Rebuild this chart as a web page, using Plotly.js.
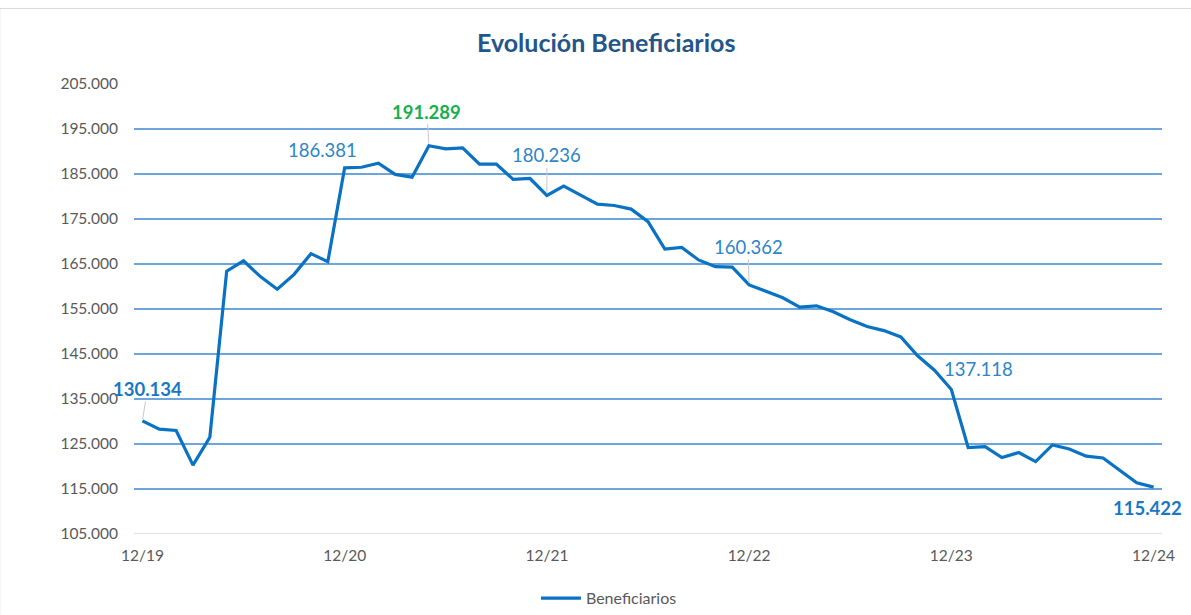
<!DOCTYPE html>
<html>
<head>
<meta charset="utf-8">
<script src="https://cdn.plot.ly/plotly-3.0.1.min.js"></script>
<style>html,body{margin:0;padding:0;background:#fff;}#chart{width:1191px;height:615px;}</style>
</head>
<body>
<div id="chart"></div>
<script>
const months = [
  "12/19","01/20","02/20","03/20","04/20","05/20","06/20","07/20","08/20","09/20","10/20","11/20",
  "12/20","01/21","02/21","03/21","04/21","05/21","06/21","07/21","08/21","09/21","10/21","11/21",
  "12/21","01/22","02/22","03/22","04/22","05/22","06/22","07/22","08/22","09/22","10/22","11/22",
  "12/22","01/23","02/23","03/23","04/23","05/23","06/23","07/23","08/23","09/23","10/23","11/23",
  "12/23","01/24","02/24","03/24","04/24","05/24","06/24","07/24","08/24","09/24","10/24","11/24",
  "12/24"
];
const beneficiarios = [
  130134,128300,128000,120300,126500,163400,165700,162200,159400,162700,167300,165500,
  186381,186500,187400,184900,184300,191289,190600,190800,187200,187200,183800,184000,
  180236,182300,180300,178300,178000,177200,174400,168300,168700,165900,164400,164300,
  160362,158900,157500,155400,155700,154400,152600,151100,150200,148800,144600,141400,
  137118,124200,124400,122000,123100,121100,124800,123900,122300,121900,119200,116400,
  115422
];
const tickMonths = ["12/19","12/20","12/21","12/22","12/23","12/24"];
const yTicks = [105000,115000,125000,135000,145000,155000,165000,175000,185000,195000,205000];
const yTickText = ["105.000","115.000","125.000","135.000","145.000","155.000","165.000","175.000","185.000","195.000","205.000"];

// labelled points: month, text, style
const labelled = [
  {m:"12/19", text:"130.134", bold:true,  color:"#1878C4", ax:5,  ay:-32, leader:true},
  {m:"12/20", text:"186.381", bold:false, color:"#2B85C9", ax:-22, ay:-18, leader:false},
  {m:"05/21", text:"191.289", bold:true,  color:"#16B04E", ax:-2, ay:-34, leader:true},
  {m:"12/21", text:"180.236", bold:false, color:"#2B85C9", ax:0,  ay:-40, leader:true},
  {m:"12/22", text:"160.362", bold:false, color:"#2B85C9", ax:-1, ay:-38, leader:true},
  {m:"12/23", text:"137.118", bold:false, color:"#2B85C9", ax:27, ay:-20, leader:false},
  {m:"12/24", text:"115.422", bold:true,  color:"#1878C4", ax:-6, ay:21, leader:false}
];

const fontFam = "Lato, 'Open Sans', sans-serif";
const annotations = labelled.map(l => {
  const idx = months.indexOf(l.m);
  const txt = l.bold ? "<b>" + l.text + "</b>" : l.text;
  return {
    x: l.m, y: beneficiarios[idx], xref:"x", yref:"y",
    text: txt, showarrow: true, arrowhead: 0, arrowwidth: 1,
    arrowcolor: l.leader ? "#c8c8c8" : "rgba(0,0,0,0)",
    ax: l.ax, ay: l.ay, standoff: 2,
    font: {family: fontFam, size: 18.5, color: l.color}
  };
});

const trace = {
  x: months, y: beneficiarios, type: "scatter", mode: "lines",
  name: "Beneficiarios",
  line: {color: "#0A72C2", width: 3.2},
  hoverinfo: "x+y"
};

const layout = {
  width: 1191, height: 615,
  margin: {l: 134, r: 29, t: 84, b: 81, autoexpand: false},
  paper_bgcolor: "#ffffff", plot_bgcolor: "#ffffff",
  title: {text: "<b>Evolución Beneficiarios</b>", x: 0.509, xanchor: "center", y: 0.93, yanchor: "middle",
          font: {family: fontFam, size: 25, color: "#24558A"}},
  xaxis: {
    type: "category", range: [-0.5, 60.5], automargin: false,
    tickmode: "array", tickvals: tickMonths, ticktext: tickMonths,
    showgrid: false, zeroline: false, showline: false, ticks: "",
    tickfont: {family: fontFam, size: 15.5, color: "#595959"},
    ticklabelstandoff: 10, fixedrange: true
  },
  yaxis: {
    range: [105000, 205000], tickmode: "array", tickvals: yTicks, ticktext: yTickText, automargin: false,
    showgrid: true, gridcolor: "#6CA5DB", gridwidth: 1.6,
    zeroline: false, showline: false, ticks: "",
    tickfont: {family: fontFam, size: 15.5, color: "#595959"},
    ticklabelstandoff: 15, fixedrange: true
  },
  showlegend: true,
  legend: {orientation: "h", x: 0.462, xanchor: "center", y: -0.105, yanchor: "top",
           font: {family: fontFam, size: 16, color: "#595959"}, itemwidth: 40},
  annotations: annotations,
  shapes: [
    {type:"line", xref:"paper", yref:"y", x0:0, x1:1, y0:105000, y1:105000, line:{color:"#d9d9d9", width:1.5}},
    {type:"line", xref:"paper", yref:"paper", x0:-0.1306, x1:1.1, y0:1.1679, y1:1.1679, line:{color:"#d9d9d9", width:1}},
    {type:"line", xref:"paper", yref:"paper", x0:-0.1306, x1:-0.1306, y0:-0.2, y1:1.1679, line:{color:"#d9d9d9", width:1}}
  ]
};

Plotly.newPlot("chart", [trace], layout, {displayModeBar: false, staticPlot: true});
</script>
</body>
</html>
